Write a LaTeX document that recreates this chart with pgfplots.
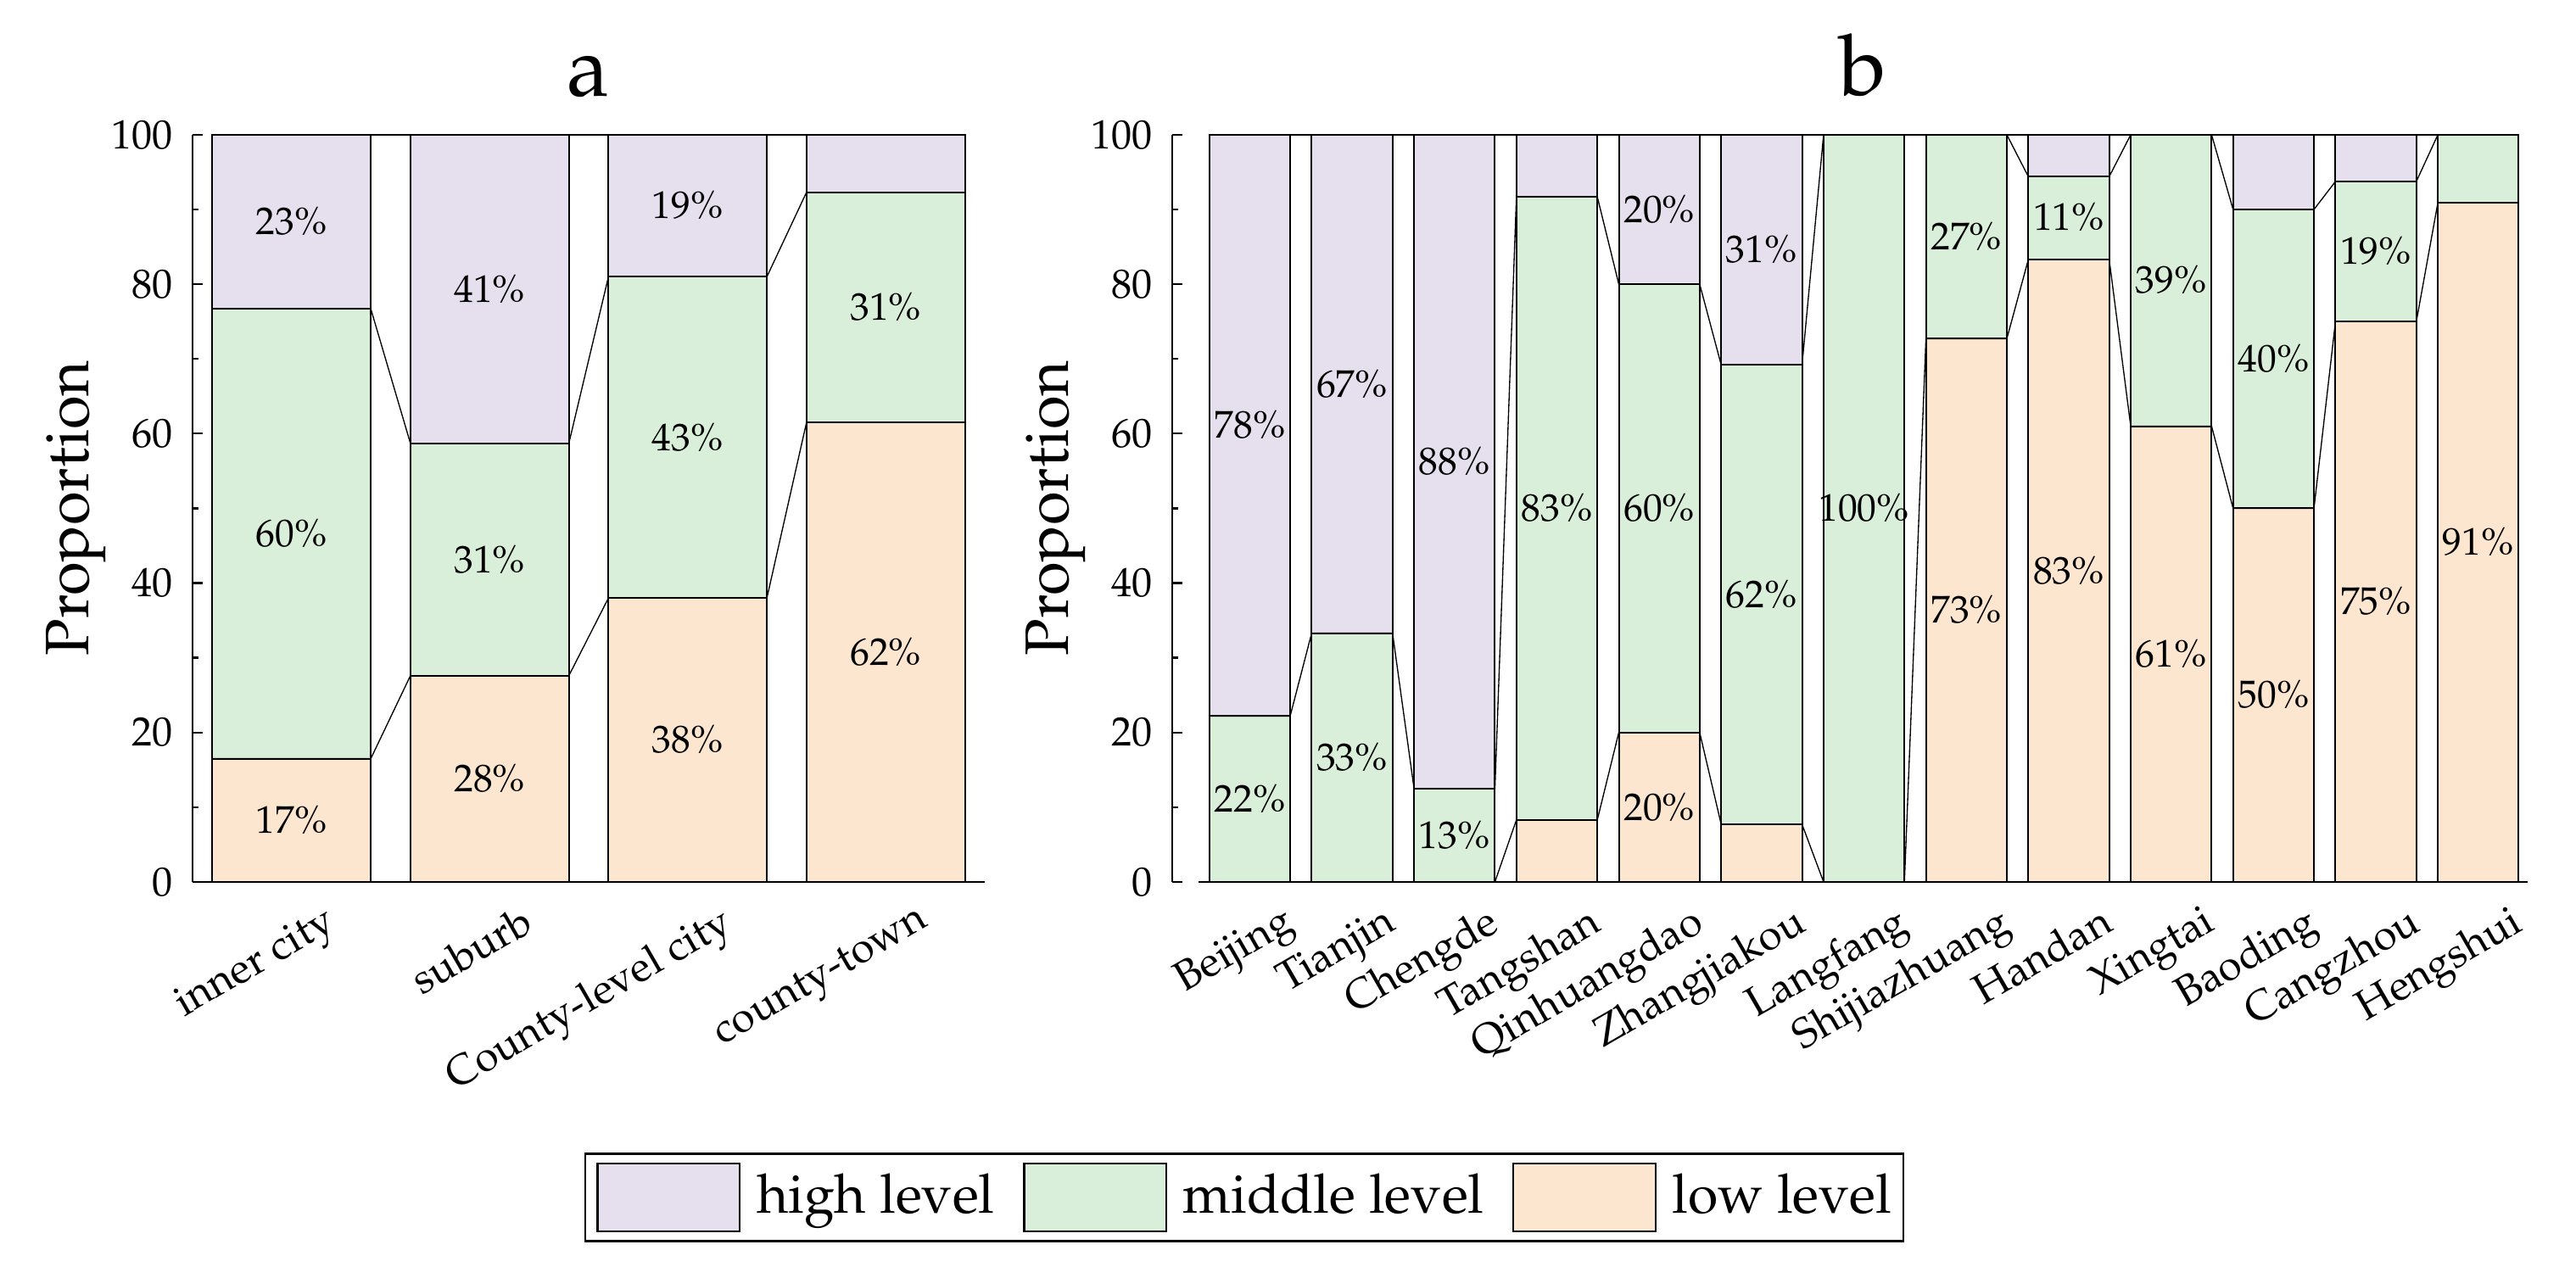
\documentclass[border=0pt]{standalone}
\usepackage[T1]{fontenc}
\usepackage{mathpazo}
\usepackage{pgfplots}
\pgfplotsset{compat=1.18}

\definecolor{highc}{RGB}{229,223,238}
\definecolor{midc}{RGB}{218,239,218}
\definecolor{lowc}{RGB}{253,230,207}

\pgfplotsset{
  panel/.style={
    scale only axis, anchor=south west,
    ymin=0, ymax=100, clip=false,
    axis line style={line width=0.35pt},
    tick style={line width=0.35pt, black},
    tick align=inside,
    major tick length=1.8pt, minor tick length=1pt,
    yticklabel style={font=\fontsize{7.2}{8}\selectfont},
  },
  catlabels/.style={
    xtick style={draw=none},
    xticklabel style={rotate=30, anchor=north east, inner sep=0pt,
      xshift=3pt, yshift=-5.8pt, font=\fontsize{7.4}{9}\selectfont},
  },
  seg/.style={draw=black, line width=0.3pt, fill=#1},
  joinline/.style={black, line width=0.2pt, mark=none},
  pct/.style={only marks, mark=none, point meta=explicit symbolic,
    nodes near coords={\pgfplotspointmeta\%},
    every node near coord/.style={anchor=center, inner sep=0pt,
      font=\fontsize{6.8}{8}\selectfont, black}},
  overlay/.style={scale only axis, anchor=south west, hide axis,
    ymin=0, ymax=100, clip=false},
}

\begin{document}
\begin{tikzpicture}
\path[use as bounding box] (0,0) rectangle (453.5pt,225.03pt);

% ---------------- panel a ----------------
\begin{axis}[panel,
  at={(33.90pt,69.74pt)}, width=139.47pt, height=131.56pt,
  xmin=-0.5, xmax=3.5,
  ybar stacked, bar width=0.8,
  axis x line*=bottom, axis y line*=left,
  ytick={0,20,...,100}, minor y tick num=1,
  xtick={0,1,2,3},
  xticklabels={inner city, suburb, County-level city, county-town},
  catlabels,
  ylabel={Proportion},
  ylabel style={at={(axis description cs:-0.1467,0.5)}, anchor=center,
    font=\fontsize{10.8}{12}\selectfont},
  title={a},
  title style={at={(0.5,1)}, anchor=base, yshift=0.8pt,
    font=\fontsize{15}{18}\selectfont},
  axis on top,
  reverse legend,
  legend columns=3,
  legend image code/.code={\draw[#1, draw=black, line width=0.35pt] (0pt,-6pt) rectangle (25pt,6pt);},
  legend style={at={(1.3276,-0.4222)}, anchor=center, draw=black,
    line width=0.4pt, inner xsep=2pt, inner ysep=1.5pt,
    font=\fontsize{9.6}{11}\selectfont,
    nodes={inner ysep=0pt, inner xsep=0pt},
    /tikz/every odd column/.append style={column sep=2.8pt},
    /tikz/every even column/.append style={column sep=5pt}},
]
\addplot[seg=lowc] coordinates {(0,16.5) (1,27.6) (2,38.0) (3,61.5)};
\addlegendentry{low level}
\addplot[seg=midc] coordinates {(0,60.2) (1,31.1) (2,43.0) (3,30.8)};
\addlegendentry{middle level}
\addplot[seg=highc] coordinates {(0,23.3) (1,41.3) (2,19.0) (3,7.7)};
\addlegendentry{high level}
\end{axis}

\begin{axis}[overlay,
  at={(33.90pt,69.74pt)}, width=139.47pt, height=131.56pt,
  xmin=-0.5, xmax=3.5]
% lines joining the segment boundaries of neighbouring bars
\addplot[joinline] coordinates {(-0.4,16.5) (0.4,16.5) (0.6,27.6) (1.4,27.6)
  (1.6,38.0) (2.4,38.0) (2.6,61.5) (3.4,61.5)};
\addplot[joinline] coordinates {(-0.4,76.7) (0.4,76.7) (0.6,58.7) (1.4,58.7)
  (1.6,81.0) (2.4,81.0) (2.6,92.3) (3.4,92.3)};
\addplot[joinline] coordinates {(-0.4,100) (3.4,100)};
\addplot[pct] table[meta=t] {
x y t
0 8.25 17
1 13.8 28
2 19.0 38
3 30.75 62
0 46.6 60
1 43.15 31
2 59.5 43
3 76.9 31
0 88.35 23
1 79.35 41
2 90.5 19
};
\end{axis}

% ---------------- panel b ----------------
\begin{axis}[panel,
  at={(211.0pt,69.74pt)}, width=233.95pt, height=131.56pt,
  xmin=-0.5, xmax=12.48,
  ybar stacked, bar width=0.79,
  axis x line*=bottom, axis y line=none,
  xtick={0,...,12},
  xticklabels={Beijing, Tianjin, Chengde, Tangshan, Qinhuangdao, Zhangjiakou,
    Langfang, Shijiazhuang, Handan, Xingtai, Baoding, Cangzhou, Hengshui},
  catlabels,
  title={b},
  title style={at={(0.5,1)}, anchor=base, yshift=1pt,
    font=\fontsize{15}{18}\selectfont},
  axis on top,
]
\addplot[seg=lowc] coordinates {(0,0) (1,0) (2,0) (3,8.3) (4,20) (5,7.7) (6,0)
  (7,72.7) (8,83.3) (9,61) (10,50) (11,75) (12,90.9)};
\addplot[seg=midc] coordinates {(0,22.2) (1,33.3) (2,12.5) (3,83.4) (4,60) (5,61.5)
  (6,100) (7,27.3) (8,11.1) (9,39) (10,40) (11,18.75) (12,9.1)};
\addplot[seg=highc] coordinates {(0,77.8) (1,66.7) (2,87.5) (3,8.3) (4,20) (5,30.8)
  (6,0) (7,0) (8,5.6) (9,0) (10,10) (11,6.25) (12,0)};
\end{axis}

\begin{axis}[overlay,
  at={(211.0pt,69.74pt)}, width=233.95pt, height=131.56pt,
  xmin=-0.5, xmax=12.48]
\addplot[joinline] coordinates {(-0.395,0) (0.395,0) (0.605,0) (1.395,0)
  (1.605,0) (2.395,0) (2.605,8.3) (3.395,8.3) (3.605,20) (4.395,20)
  (4.605,7.7) (5.395,7.7) (5.605,0) (6.395,0) (6.605,72.7) (7.395,72.7)
  (7.605,83.3) (8.395,83.3) (8.605,61) (9.395,61) (9.605,50) (10.395,50)
  (10.605,75) (11.395,75) (11.605,90.9) (12.395,90.9)};
\addplot[joinline] coordinates {(-0.395,22.2) (0.395,22.2) (0.605,33.3) (1.395,33.3)
  (1.605,12.5) (2.395,12.5) (2.605,91.7) (3.395,91.7) (3.605,80) (4.395,80)
  (4.605,69.2) (5.395,69.2) (5.605,100) (6.395,100) (6.605,100) (7.395,100)
  (7.605,94.4) (8.395,94.4) (8.605,100) (9.395,100) (9.605,90) (10.395,90)
  (10.605,93.75) (11.395,93.75) (11.605,100) (12.395,100)};
\addplot[joinline] coordinates {(-0.395,100) (12.395,100)};
\addplot[pct] table[meta=t] {
x y t
0 11.1 22
0 61.1 78
1 16.65 33
1 66.65 67
2 6.25 13
2 56.25 88
3 50 83
4 10 20
4 50 60
4 90 20
5 38.45 62
5 84.6 31
6 50 100
7 36.35 73
7 86.35 27
8 41.65 83
8 88.9 11
9 30.5 61
9 80.5 39
10 25 50
10 70 40
11 37.5 75
11 84.4 19
12 45.45 91
};
\end{axis}

% detached y axis of panel b
\begin{axis}[panel,
  at={(206.37pt,69.74pt)}, width=4.63pt, height=131.56pt,
  xmin=0, xmax=1,
  axis x line=none, axis y line*=left,
  ytick={0,20,...,100}, minor y tick num=1,
  ylabel={Proportion},
  ylabel style={at={(axis description cs:-4.42,0.5)}, anchor=center,
    font=\fontsize{10.8}{12}\selectfont},
]
\end{axis}
\end{tikzpicture}
\end{document}
